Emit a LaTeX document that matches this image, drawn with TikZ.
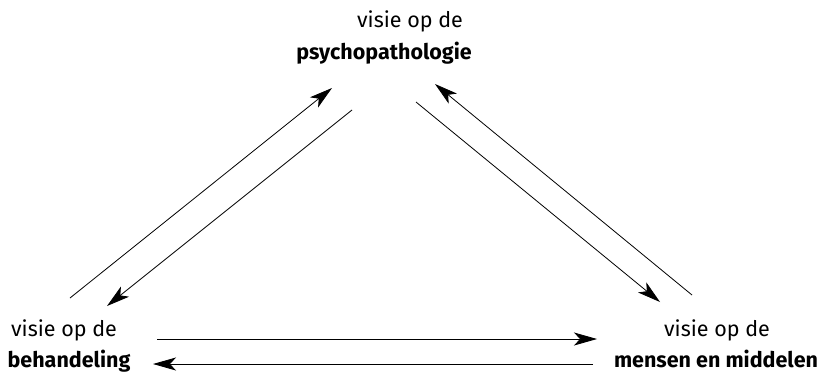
\documentclass[tikz,border=0pt]{standalone}
\usepackage{fontspec}
\setmainfont{Fira Sans}
\usetikzlibrary{arrows.meta}
\begin{document}
\begin{tikzpicture}[x=1pt,y=-1pt,
  lbl/.style={inner sep=0pt, font=\fontsize{21.5}{25}\selectfont, align=center},
  conn/.style={line width=0.8pt, -{Stealth[length=23pt,width=13pt,inset=6pt]}}]
\useasboundingbox (0,0) rectangle (824,373);
% texts
\node[lbl, anchor=base] (t1) at (410,27) {visie op de};
\node[lbl, anchor=base] (t2) at (384,59) {\bfseries psychopathologie};
\node[lbl, anchor=base] (l1) at (64,336) {visie op de};
\node[lbl, anchor=base] (l2) at (69,367) {\bfseries behandeling};
\node[lbl, anchor=base] (r1) at (717,336) {visie op de};
\node[lbl, anchor=base] (r2) at (716,367) {\bfseries mensen en middelen};
% connector end points
\coordinate (a1) at (70,298);  \coordinate (a2) at (332,88);
\coordinate (b1) at (352,110); \coordinate (b2) at (107,306);
\coordinate (c1) at (416,102); \coordinate (c2) at (660,302);
\coordinate (d1) at (692,295); \coordinate (d2) at (435,84);
\coordinate (e1) at (157,339); \coordinate (e2) at (597,339);
\coordinate (f1) at (593,364); \coordinate (f2) at (153,364);
\draw[conn] (a1) -- (a2);
\draw[conn] (b1) -- (b2);
\draw[conn] (c1) -- (c2);
\draw[conn] (d1) -- (d2);
\draw[conn] (e1) -- (e2);
\draw[conn] (f1) -- (f2);
\end{tikzpicture}
\end{document}
